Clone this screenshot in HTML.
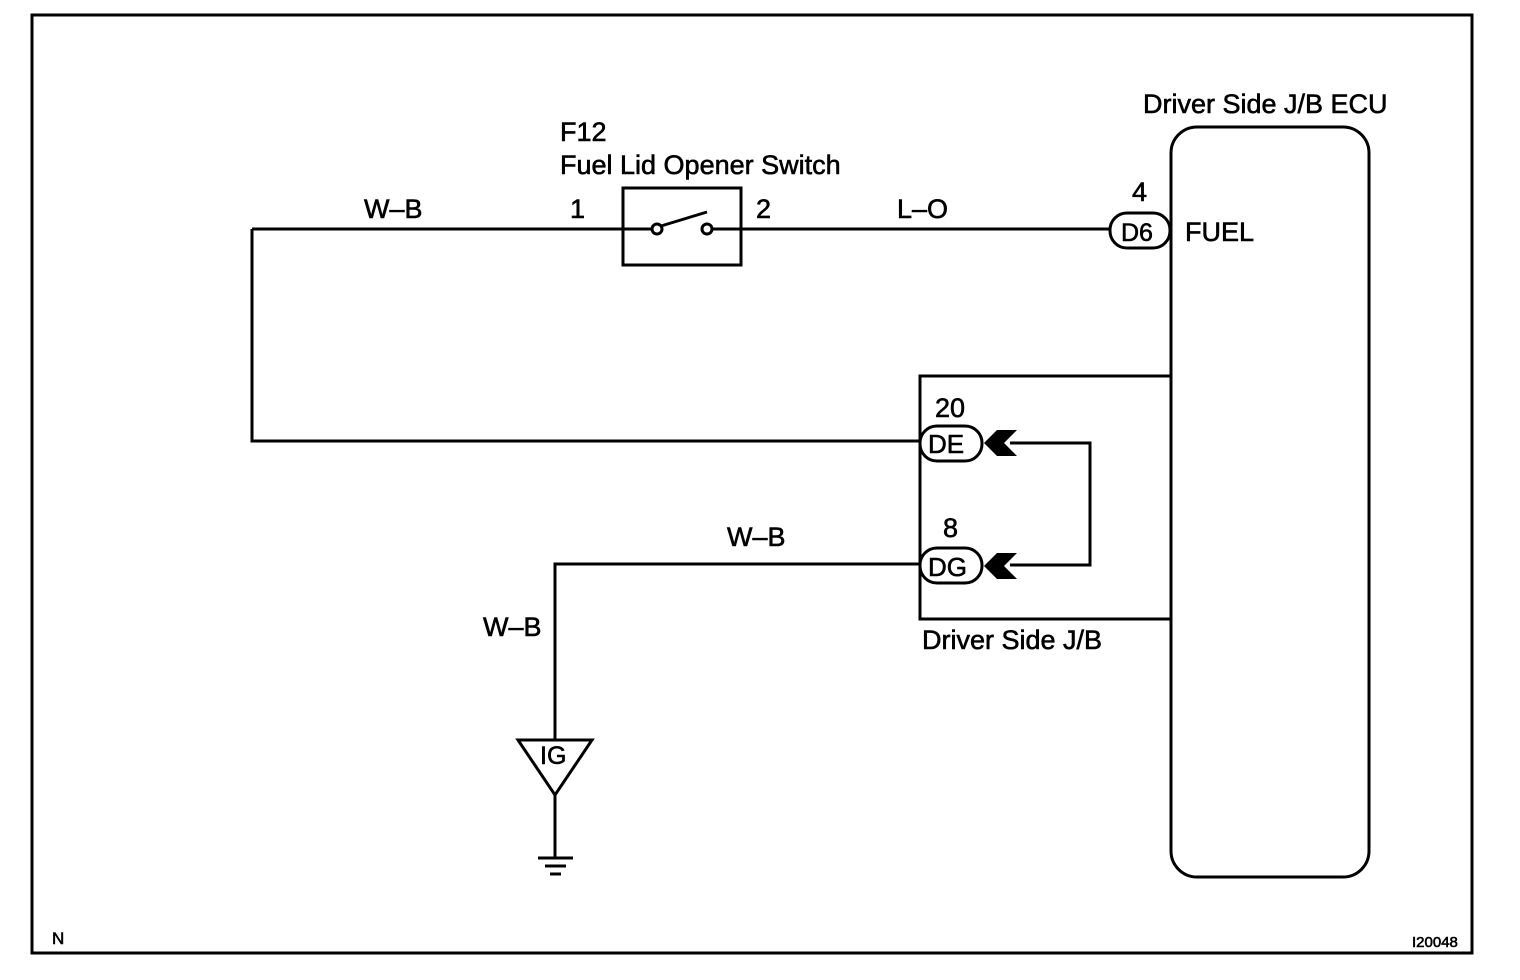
<!DOCTYPE html>
<html><head><meta charset="utf-8"><style>
html,body{margin:0;padding:0;background:#fff;width:1520px;height:980px;overflow:hidden}
svg{display:block}
text{font-family:"Liberation Sans",sans-serif;fill:#000;stroke:#000;stroke-width:0.6}
</style></head><body>
<svg width="1520" height="980" viewBox="0 0 1520 980">
<g fill="none" stroke="#000" stroke-width="3">
<rect x="32" y="15" width="1440" height="938"/>
<rect x="623" y="188" width="118" height="77"/>
<line x1="252" y1="229" x2="651" y2="229"/>
<line x1="713" y1="229" x2="1110" y2="229"/>
<circle cx="657" cy="229" r="5"/>
<circle cx="707" cy="229" r="5"/>
<line x1="661" y1="226" x2="707" y2="212"/>
<polyline points="252,229 252,441 920,441"/>
<rect x="1171" y="127" width="198" height="750" rx="26"/>
<polyline points="1170,376 920,376 920,619 1170,619"/>
<rect x="1110" y="213" width="60" height="35" rx="17"/>
<rect x="920" y="426" width="62" height="35" rx="17"/>
<rect x="920" y="548" width="62" height="35" rx="17"/>
<polyline points="1010,443 1090,443 1090,565 1010,565"/>
<polyline points="920,564 555,564 555,740"/>
<polygon points="518,740 592,740 555,795"/>
<line x1="555" y1="795" x2="555" y2="858"/>
<line x1="538" y1="858" x2="573" y2="858"/>
<line x1="545" y1="866" x2="566" y2="866"/>
<line x1="550" y1="874" x2="561" y2="874"/>
</g>
<polygon points="984,443 997,430 1017,430 1004,443 1017,456 997,456" fill="#000"/>
<polygon points="984,566 997,553 1017,553 1004,566 1017,579 997,579" fill="#000"/>
<g font-size="27">
<text x="1143" y="113">Driver Side J/B ECU</text>
<text x="560" y="141">F12</text>
<text x="560" y="174">Fuel Lid Opener Switch</text>
<text x="364" y="218">W–B</text>
<text x="570" y="218">1</text>
<text x="756" y="218">2</text>
<text x="897" y="218">L–O</text>
<text x="1132" y="201">4</text>
<text x="1185" y="241">FUEL</text>
<text x="1121" y="241" font-size="25">D6</text>
<text x="935" y="417">20</text>
<text x="928" y="453" font-size="26">DE</text>
<text x="943" y="537">8</text>
<text x="928" y="576" font-size="26">DG</text>
<text x="727" y="546">W–B</text>
<text x="483" y="636">W–B</text>
<text x="922" y="649">Driver Side J/B</text>
<text x="540" y="764" font-size="25">IG</text>
</g>
<text x="52" y="944" font-size="17">N</text>
<text x="1412" y="947" font-size="15">I20048</text>
</svg>
</body></html>
